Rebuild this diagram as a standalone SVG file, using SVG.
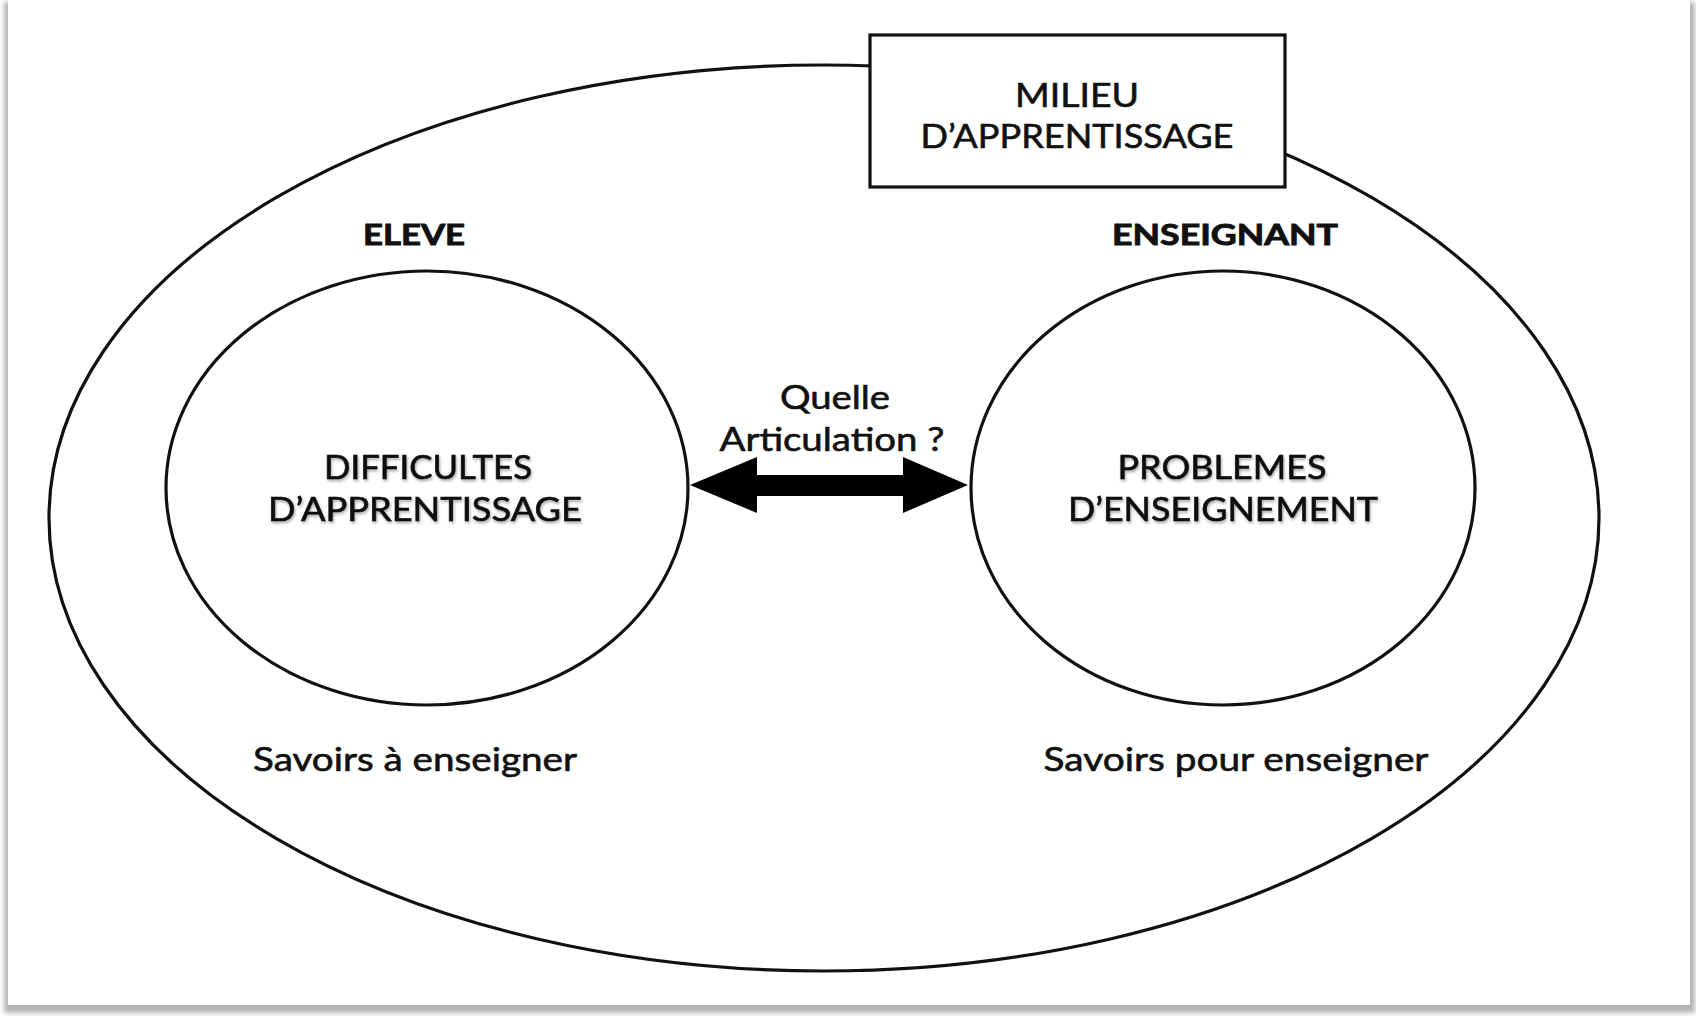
<svg xmlns="http://www.w3.org/2000/svg" width="1696" height="1016" viewBox="0 0 1696 1016">
  <style>
    .t { font-family: Lato, "Open Sans", "Liberation Sans", sans-serif; fill: #111; text-anchor: middle; }
    .n { font-size: 33px; stroke: #111; stroke-width: 0.6px; }
    .b { font-size: 29px; font-weight: bold; stroke: #111; stroke-width: 0.9px; }
    .line { fill: none; stroke: #111; stroke-width: 3.2; }
  </style>
  <defs>
    <filter id="sh" x="-5%" y="-5%" width="110%" height="115%">
      <feGaussianBlur stdDeviation="2.5"/>
    </filter>
    <filter id="ts" x="-10%" y="-30%" width="120%" height="160%">
      <feGaussianBlur in="SourceAlpha" stdDeviation="1.5" result="b"/>
      <feOffset dx="1" dy="2" result="o"/>
      <feComponentTransfer in="o" result="c"><feFuncA type="linear" slope="0.35"/></feComponentTransfer>
      <feMerge><feMergeNode in="c"/><feMergeNode in="SourceGraphic"/></feMerge>
    </filter>
  </defs>
  <rect x="0" y="0" width="1696" height="1016" fill="#ffffff"/>
  <g id="frame">
    <rect x="4" y="2" width="1691" height="1011" fill="#b4b4b4" filter="url(#sh)"/>
    <rect x="8" y="0" width="1682" height="1005" fill="#ffffff"/>
  </g>
  <g id="milieu-ellipse">
    <ellipse cx="824" cy="518" rx="775" ry="453" class="line"/>
  </g>
  <g id="milieu">
    <rect x="870" y="35" width="415" height="152" fill="#ffffff" stroke="#111" stroke-width="3.2"/>
    <text class="t n" x="1077" y="107" textLength="124" lengthAdjust="spacingAndGlyphs">MILIEU</text>
    <text class="t n" x="1077" y="148" textLength="313" lengthAdjust="spacingAndGlyphs">D’APPRENTISSAGE</text>
  </g>
  <g id="eleve">
    <text class="t b" x="414" y="245" textLength="102" lengthAdjust="spacingAndGlyphs">ELEVE</text>
    <ellipse cx="427" cy="488" rx="261" ry="217" class="line" stroke-width="3.5"/>
    <g filter="url(#ts)">
      <text class="t n" x="428" y="479" textLength="208" lengthAdjust="spacingAndGlyphs">DIFFICULTES</text>
      <text class="t n" x="425" y="521" textLength="314" lengthAdjust="spacingAndGlyphs">D’APPRENTISSAGE</text>
    </g>
    <text class="t n" x="415" y="771" textLength="324" lengthAdjust="spacingAndGlyphs">Savoirs à enseigner</text>
  </g>
  <g id="enseignant">
    <text class="t b" x="1225" y="245" textLength="226" lengthAdjust="spacingAndGlyphs">ENSEIGNANT</text>
    <ellipse cx="1223" cy="488" rx="252" ry="217" class="line" stroke-width="3.5"/>
    <g filter="url(#ts)">
      <text class="t n" x="1222" y="479" textLength="209" lengthAdjust="spacingAndGlyphs">PROBLEMES</text>
      <text class="t n" x="1223" y="521" textLength="310" lengthAdjust="spacingAndGlyphs">D’ENSEIGNEMENT</text>
    </g>
    <text class="t n" x="1236" y="771" textLength="385" lengthAdjust="spacingAndGlyphs">Savoirs pour enseigner</text>
  </g>
  <g id="connectors">
    <polygon points="690,485 757,457 757,475 903,475 903,457 968,485 903,513 903,496 757,496 757,513" fill="#000"/>
    <text class="t n" x="835" y="409" textLength="110" lengthAdjust="spacingAndGlyphs">Quelle</text>
    <text class="t n" x="832" y="451" textLength="225" lengthAdjust="spacingAndGlyphs">Articulation ?</text>
  </g>
</svg>
